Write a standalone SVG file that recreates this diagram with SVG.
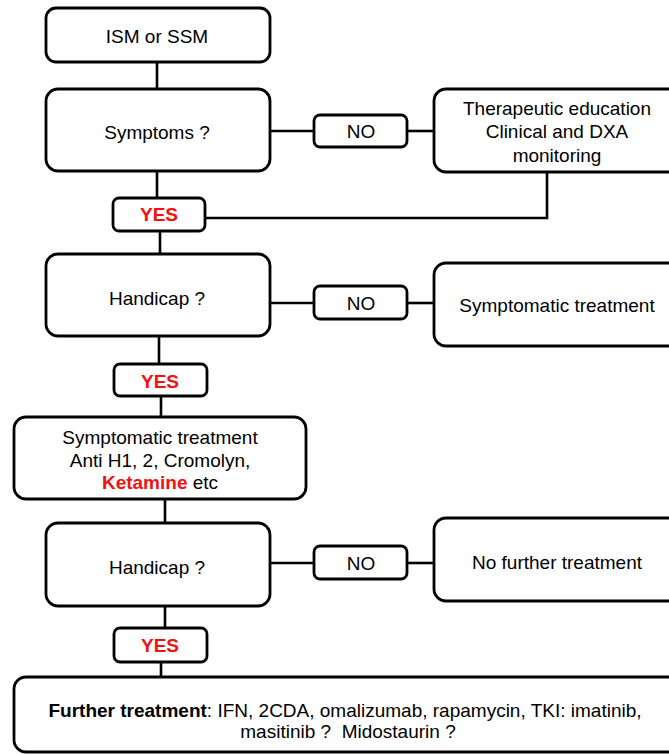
<svg xmlns="http://www.w3.org/2000/svg" width="669" height="754" viewBox="0 0 669 754">
<style>
.box{fill:#fff;stroke:#000;stroke-width:2.8}
.conn line,.conn polyline{stroke:#000;stroke-width:2.6;fill:none}
text{font-family:"Liberation Sans",Arial,sans-serif;font-size:19px;fill:#000;text-anchor:middle}
.yes{font-weight:bold;fill:#f50f0f}
.red{font-weight:bold;fill:#f50f0f}
</style>
<rect width="669" height="754" fill="#fff"/>
<g id="connectors" class="conn">
<line x1="157" y1="62" x2="157" y2="89"/>
<line x1="157" y1="171" x2="157" y2="198"/>
<line x1="160" y1="231" x2="160" y2="254"/>
<line x1="270" y1="131" x2="314" y2="131"/>
<line x1="407" y1="131" x2="434" y2="131"/>
<polyline points="547,172 547,218 205,218"/>
<line x1="270" y1="303" x2="314" y2="303"/>
<line x1="407" y1="303" x2="434" y2="303"/>
<line x1="159" y1="336" x2="159" y2="364"/>
<line x1="161" y1="396" x2="161" y2="417"/>
<line x1="165" y1="499" x2="165" y2="523"/>
<line x1="270" y1="563" x2="314" y2="563"/>
<line x1="407" y1="563" x2="434" y2="563"/>
<line x1="165" y1="606" x2="165" y2="628"/>
<line x1="161" y1="662" x2="161" y2="677"/>
</g>
<g id="ism"><rect class="box" x="46" y="8" width="224" height="54" rx="10"/><text x="157" y="43">ISM or SSM</text></g>
<g id="symptoms"><rect class="box" x="46" y="89" width="224" height="82" rx="12"/><text x="157" y="139">Symptoms ?</text></g>
<g id="no1"><rect class="box" x="314" y="115" width="93" height="32" rx="6"/><text x="361" y="138">NO</text></g>
<g id="education"><rect class="box" x="434" y="89" width="260" height="83" rx="12"/><text x="557" y="115">Therapeutic education</text><text x="557" y="138">Clinical and DXA</text><text x="557" y="162">monitoring</text></g>
<g id="yes1"><rect class="box" x="113" y="198" width="92" height="33" rx="6"/><text class="yes" x="159" y="221">YES</text></g>
<g id="handicap1"><rect class="box" x="46" y="254" width="224" height="82" rx="12"/><text x="157" y="305">Handicap ?</text></g>
<g id="no2"><rect class="box" x="314" y="286" width="93" height="33" rx="6"/><text x="361" y="310">NO</text></g>
<g id="symptomatic1"><rect class="box" x="434" y="263" width="260" height="83" rx="12"/><text x="557" y="312">Symptomatic treatment</text></g>
<g id="yes2"><rect class="box" x="114" y="364" width="93" height="32" rx="6"/><text class="yes" x="160" y="388">YES</text></g>
<g id="symptomatic2"><rect class="box" x="14" y="417" width="292" height="82" rx="12"/><text x="160" y="444">Symptomatic treatment</text><text x="160" y="467">Anti H1, 2, Cromolyn,</text><text x="160" y="489"><tspan class="red">Ketamine</tspan> etc</text></g>
<g id="handicap2"><rect class="box" x="46" y="523" width="224" height="83" rx="12"/><text x="157" y="574">Handicap ?</text></g>
<g id="no3"><rect class="box" x="314" y="546" width="93" height="33" rx="6"/><text x="361" y="570">NO</text></g>
<g id="nofurther"><rect class="box" x="434" y="518" width="260" height="83" rx="12"/><text x="557" y="569">No further treatment</text></g>
<g id="yes3"><rect class="box" x="114" y="628" width="93" height="34" rx="6"/><text class="yes" x="160" y="652">YES</text></g>
<g id="further"><rect class="box" x="14" y="677" width="700" height="75" rx="12"/><text x="345" y="717"><tspan font-weight="bold">Further treatment</tspan>: IFN, 2CDA, omalizumab, rapamycin, TKI: imatinib,</text><text x="348" y="738">masitinib ?&#160; Midostaurin ?</text></g>
</svg>
